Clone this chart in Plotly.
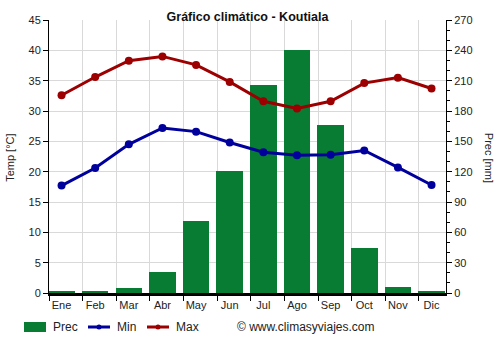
import plotly.graph_objects as go

# Monthly climate data for Koutiala
months = ["Ene", "Feb", "Mar", "Abr", "May", "Jun", "Jul", "Ago", "Sep", "Oct", "Nov", "Dic"]
prec_mm = [1, 1, 5, 20.5, 71, 120.5, 205.5, 240, 166, 45, 5.5, 1]
temp_min = [17.7, 20.6, 24.5, 27.2, 26.6, 24.8, 23.2, 22.7, 22.8, 23.5, 20.7, 17.8]
temp_max = [32.6, 35.6, 38.3, 39.0, 37.6, 34.8, 31.6, 30.4, 31.6, 34.6, 35.5, 33.7]

x = list(range(len(months)))

GREEN = "#077c32"
BLUE = "#00009c"
RED = "#9c0000"
FONT = "Liberation Sans, Arial, sans-serif"

W, H = 500, 350
L, R, T, B = 49, 54, 20, 57
PW, PH = W - L - R, H - T - B


def px_x(v):
    """Pixel column -> paper x."""
    return (v - L) / PW


def px_y(v):
    """Pixel row -> paper y."""
    return (H - B - v) / PH


fig = go.Figure()

fig.add_trace(go.Bar(
    x=x, y=prec_mm, name="Prec", yaxis="y",
    marker=dict(color=GREEN, line=dict(width=0)),
    width=0.79, showlegend=False,
))
fig.add_trace(go.Scatter(
    x=x, y=temp_min, name="Min", yaxis="y2", mode="lines+markers",
    line=dict(color=BLUE, width=3), marker=dict(color=BLUE, size=8),
    showlegend=False,
))
fig.add_trace(go.Scatter(
    x=x, y=temp_max, name="Max", yaxis="y2", mode="lines+markers",
    line=dict(color=RED, width=3), marker=dict(color=RED, size=8),
    showlegend=False,
))

# Legend row drawn below the plot: swatch / line sample followed by its label
leg_y = 327
shapes = [
    dict(type="rect", xref="paper", yref="paper",
         x0=px_x(24), x1=px_x(46), y0=px_y(leg_y + 5), y1=px_y(leg_y - 5),
         fillcolor=GREEN, line=dict(width=0)),
]
for x0, color in [(88, BLUE), (147, RED)]:
    shapes.append(dict(type="line", xref="paper", yref="paper",
                       x0=px_x(x0), x1=px_x(x0 + 22), y0=px_y(leg_y), y1=px_y(leg_y),
                       line=dict(color=color, width=3)))
    shapes.append(dict(type="circle", xref="paper", yref="paper",
                       x0=px_x(x0 + 8.5), x1=px_x(x0 + 13.5),
                       y0=px_y(leg_y + 2.5), y1=px_y(leg_y - 2.5),
                       fillcolor=color, line=dict(width=0)))

legend_labels = [(51, "Prec"), (115, "Min"), (174, "Max")]
annotations = [
    dict(text=t, xref="paper", yref="paper", x=px_x(xp), y=px_y(leg_y),
         xanchor="left", yanchor="middle", showarrow=False,
         font=dict(size=12, color="#222"))
    for xp, t in legend_labels
]
annotations += [
    dict(text="Temp [°C]", xref="paper", yref="paper", x=px_x(10), y=0.495,
         showarrow=False, textangle=-90, font=dict(size=11, color="#222"),
         xanchor="center", yanchor="middle"),
    dict(text="Prec [mm]", xref="paper", yref="paper", x=px_x(489), y=0.495,
         showarrow=False, textangle=90, font=dict(size=11, color="#222"),
         xanchor="center", yanchor="middle"),
    dict(text="© www.climasyviajes.com", xref="paper", yref="paper",
         x=px_x(235), y=px_y(leg_y),
         xanchor="left", yanchor="middle", showarrow=False,
         font=dict(size=12, color="#222")),
]

fig.update_layout(
    width=W, height=H,
    margin=dict(l=L, r=R, t=T, b=B, autoexpand=False),
    paper_bgcolor="white", plot_bgcolor="white",
    font=dict(family=FONT, size=11, color="#222"),
    title=dict(text="<b>Gráfico climático - Koutiala</b>", x=0.5, xref="paper",
               xanchor="center", y=1 - 17 / H, yanchor="middle",
               font=dict(size=12.5, color="#111")),
    showlegend=False,
    bargap=0,
    xaxis=dict(
        range=[-0.373, 11.43],
        tickmode="array", tickvals=x, ticktext=months,
        ticks="", showgrid=False, zeroline=False,
        showline=True, linecolor="#000", linewidth=2.5,
        tickfont=dict(size=11, color="#222"),
        minor=dict(tickmode="linear", tick0=-0.373, dtick=1, ticks="outside",
                   ticklen=5, tickcolor="#000", tickwidth=1,
                   showgrid=True, gridcolor="#d9d9d9", gridwidth=1),
    ),
    # Precipitation on the base axis (right side) so the temperature lines sit above the bars
    yaxis=dict(
        side="right", range=[0, 270], tickmode="linear", tick0=0, dtick=30,
        ticks="outside", ticklen=5, tickcolor="#000",
        showgrid=True, gridcolor="#d9d9d9", gridwidth=1, zeroline=False,
        showline=True, linecolor="#000", linewidth=1,
        tickfont=dict(size=11, color="#222"),
        minor=dict(tickmode="linear", tick0=0, dtick=10, ticks="outside",
                   ticklen=3, tickcolor="#000", showgrid=False),
    ),
    yaxis2=dict(
        side="left", overlaying="y", range=[0, 45], tickmode="linear", tick0=0, dtick=5,
        ticks="outside", ticklen=5, tickcolor="#000",
        showgrid=False, zeroline=False,
        showline=True, linecolor="#000", linewidth=1,
        tickfont=dict(size=11, color="#222"),
    ),
    shapes=shapes,
    annotations=annotations,
)

fig.write_html("out.html")
